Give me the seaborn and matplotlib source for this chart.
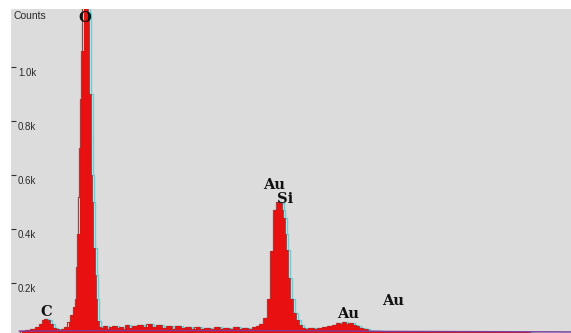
import matplotlib
matplotlib.use("Agg")
import numpy as np
import pandas as pd
import matplotlib.pyplot as plt
import seaborn as sns
from matplotlib.transforms import ScaledTranslation, blended_transform_factory

# ---------------- data ----------------
energy_kev = [0.10, 0.13, 0.16, 0.19, 0.22, 0.24, 0.26, 0.27, 0.28, 0.29, 0.30, 0.32, 0.34, 0.36, 0.38,
              0.40, 0.42, 0.435, 0.45, 0.46, 0.468, 0.475, 0.481, 0.487, 0.493, 0.50, 0.507, 0.515, 0.525,
              0.532, 0.537, 0.544, 0.550, 0.556, 0.562, 0.569, 0.578, 0.587, 0.594, 0.60, 0.62, 0.64, 0.66,
              0.68, 0.70, 0.72, 0.74, 0.76, 0.78, 0.80, 0.83, 0.86, 0.89, 0.92, 0.95, 0.98, 1.01, 1.04,
              1.07, 1.10, 1.13, 1.16, 1.19, 1.22, 1.25, 1.28, 1.31, 1.34, 1.37, 1.40, 1.43, 1.46, 1.49,
              1.52, 1.55, 1.58, 1.60, 1.621, 1.646, 1.671, 1.689, 1.708, 1.72, 1.73, 1.74, 1.75, 1.758,
              1.768, 1.777, 1.79, 1.808, 1.825, 1.84, 1.86, 1.877, 1.90, 1.93, 1.96, 1.99, 2.02, 2.05,
              2.08, 2.10, 2.12, 2.14, 2.16, 2.18, 2.20, 2.22, 2.24, 2.27, 2.30, 2.35, 2.40, 2.50, 2.60,
              2.80, 3.00, 3.20, 3.40, 3.56]
counts = [15, 24, 26, 30, 38, 50, 62, 66, 58, 62, 48, 35, 28, 27, 30,
          38, 55, 80, 110, 140, 260, 380, 520, 700, 880, 1060, 1250, 1300, 1300,
          1200, 1063, 900, 720, 600, 500, 330, 230, 140, 60, 38, 32, 40, 30,
          36, 42, 33, 38, 30, 44, 35, 40, 46, 36, 48, 38, 44, 34, 40,
          30, 42, 34, 38, 30, 36, 28, 34, 30, 38, 29, 33, 30, 36, 31,
          34, 30, 36, 40, 48, 70, 140, 320, 470, 500, 492, 498, 470, 440,
          380, 322, 220, 140, 90, 63, 45, 35, 30, 33, 28, 32, 36, 40,
          46, 52, 48, 55, 50, 52, 46, 42, 35, 28, 24, 22, 20, 19, 18,
          18, 17, 17, 16, 16]

background_energy = [0.10, 0.60, 1.00, 1.60, 2.00, 2.40, 3.00, 3.56]
background_counts = [22, 24, 24, 24, 23, 21, 20, 19]

spike_energy = [1.697, 1.697]
spike_counts = [15, 350]

tick_values = [200, 400, 600, 800, 1000]
tick_labels = ["0.2k", "0.4k", "0.6k", "0.8k", "1.0k"]

peak_labels = ["O", "C", "Au", "Si", "Au", "Au"]
peak_label_energy = [0.512, 0.268, 1.696, 1.765, 2.159, 2.441]
peak_label_counts = [1182, 93, 563, 511, 85, 133]

# ---------------- plot ----------------
sns.set_theme(style="white")
plt.rcParams["font.family"] = ["DejaVu Sans"]

fig = plt.figure(figsize=(5.71, 3.33), dpi=100)
ax = fig.add_axes([11 / 571, 0, 560 / 571, 324 / 333])
ax.set_facecolor("#dcdcdc")

df = pd.DataFrame({"energy": energy_kev, "counts": counts})
bg = pd.DataFrame({"energy": background_energy, "counts": background_counts})
sp = pd.DataFrame({"energy": spike_energy, "counts": spike_counts})

px = fig.dpi_scale_trans
# cyan overlay (slightly right) and dark overlay (slightly left), behind the fill
ax.plot(df["energy"], df["counts"], color="#5ad6dc", lw=1.0, zorder=2, drawstyle="steps-mid",
        transform=ax.transData + ScaledTranslation(2 / 100, 0, px))
ax.plot(df["energy"], df["counts"], color="#8a4a4a", lw=0.9, zorder=2, drawstyle="steps-mid",
        transform=ax.transData + ScaledTranslation(-1.2 / 100, 0, px))
ax.fill_between(df["energy"], 0, df["counts"], color="#e81010", lw=0, zorder=3, step="mid")
sns.lineplot(data=df, x="energy", y="counts", ax=ax, color="#d41616", lw=0.6, zorder=4,
             drawstyle="steps-mid")
sns.lineplot(data=bg, x="energy", y="counts", ax=ax, color="#7b3c9c", lw=1.0, zorder=4)
sns.lineplot(data=sp, x="energy", y="counts", ax=ax, color="#111111", lw=1.0, zorder=4)

ax.set_xlim(0.049, 3.556)
ax.set_ylim(15, 1215)
ax.set_xlabel("")
ax.set_ylabel("")
ax.set_xticks([])
ax.set_yticks(tick_values)
ax.set_yticklabels([])
ax.tick_params(axis="y", direction="in", length=3.5, width=0.8, color="#333333", left=True)
for s in ax.spines.values():
    s.set_visible(False)

ytr = blended_transform_factory(ax.transAxes, ax.transData) + ScaledTranslation(0, -6 / 100, px)
for v, lab in zip(tick_values, tick_labels):
    ax.text(0.0125, v, lab, transform=ytr, ha="left", va="center", fontsize=7,
            family="Liberation Sans", color="#2a2a2a")

fig.text(13 / 571, 1 - 16 / 333, "Counts", ha="left", va="center", fontsize=7.5,
         family="Liberation Sans", color="#2a2a2a")

for lab, e, c in zip(peak_labels, peak_label_energy, peak_label_counts):
    ax.text(e, c, lab, ha="center", va="center", fontsize=10.5, fontweight="bold",
            family="DejaVu Serif", color="#111111", zorder=6, clip_on=False)

fig.savefig("out.png", dpi=100, facecolor="white")
